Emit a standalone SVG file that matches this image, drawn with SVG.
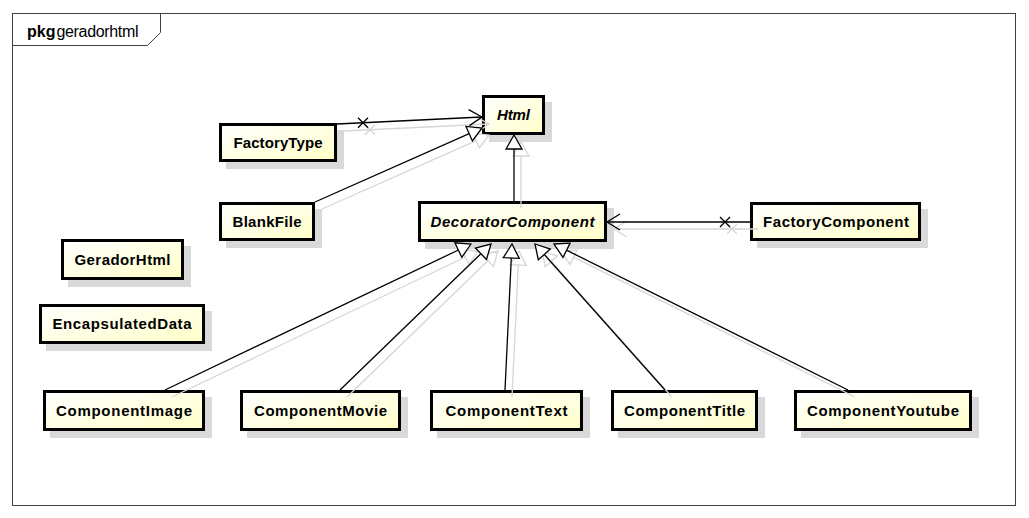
<svg xmlns="http://www.w3.org/2000/svg" width="1029" height="518" viewBox="0 0 1029 518">
  <style>
    .frame { fill: none; stroke: #404040; stroke-width: 1; }
    .tab { fill: #ffffff; stroke: #404040; stroke-width: 1; }
    .box { fill: url(#boxFill); stroke: #000000; stroke-width: 3; }
    .shadow { fill: #d9d9d9; stroke: none; }
    .lbl { font-family: "Liberation Sans", Arial, sans-serif; font-weight: bold; font-size: 15px; fill: #000000; text-anchor: middle; }
    .abs { font-style: italic; }
    .edge { fill: none; stroke: #000000; stroke-width: 1.3; }
    .head { fill: #ffffff; stroke: #000000; stroke-width: 1.3; }
    .ghost { fill: none; stroke: #d6d6d6; stroke-width: 1.3; }
  </style>
  <defs>
    <linearGradient id="boxFill" x1="0" y1="0" x2="1" y2="1">
      <stop offset="0" stop-color="#ffffff"/>
      <stop offset="1" stop-color="#ffffc8"/>
    </linearGradient>
  </defs>

  <rect width="1029" height="518" fill="#ffffff"/>

  <!-- package frame -->
  <g id="package">
    <rect class="frame" x="12.5" y="13.5" width="1003" height="492"/>
    <polygon class="tab" points="12.5,13.5 160.5,13.5 160.5,32.5 147.5,45.5 12.5,45.5"/>
    <text x="27" y="37" font-family="Liberation Sans, Arial, sans-serif" font-size="16px"><tspan font-weight="bold">pkg</tspan><tspan dx="1" textLength="82" lengthAdjust="spacing">geradorhtml</tspan></text>
  </g>

  <!-- node shadows -->
  <g id="shadows">
    <rect class="shadow" x="489" y="102" width="63" height="40"/>
    <rect class="shadow" x="226" y="130" width="118" height="39"/>
    <rect class="shadow" x="226" y="209" width="96" height="39"/>
    <rect class="shadow" x="425" y="208" width="189" height="41"/>
    <rect class="shadow" x="757" y="209" width="171" height="39"/>
    <rect class="shadow" x="68" y="246" width="123" height="41"/>
    <rect class="shadow" x="46" y="311" width="166" height="40"/>
    <rect class="shadow" x="50" y="397" width="162" height="41"/>
    <rect class="shadow" x="247" y="397" width="161" height="41"/>
    <rect class="shadow" x="437" y="397" width="153" height="41"/>
    <rect class="shadow" x="618" y="397" width="147" height="41"/>
    <rect class="shadow" x="801" y="397" width="178" height="41"/>
  </g>

  <!-- classes -->
  <g id="Html">
    <rect class="box" x="483.5" y="96.5" width="60" height="37"/>
    <text class="lbl abs" x="513.5" y="120" textLength="33" lengthAdjust="spacing">Html</text>
  </g>
  <g id="FactoryType">
    <rect class="box" x="220.5" y="124.5" width="115" height="36"/>
    <text class="lbl" x="278" y="147.5" textLength="89" lengthAdjust="spacing">FactoryType</text>
  </g>
  <g id="BlankFile">
    <rect class="box" x="220.5" y="203.5" width="93" height="36"/>
    <text class="lbl" x="267" y="226.5" textLength="69" lengthAdjust="spacing">BlankFile</text>
  </g>
  <g id="DecoratorComponent">
    <rect class="box" x="419.5" y="202.5" width="186" height="38"/>
    <text class="lbl abs" x="512.5" y="226.5" textLength="164" lengthAdjust="spacing">DecoratorComponent</text>
  </g>
  <g id="FactoryComponent">
    <rect class="box" x="751.5" y="203.5" width="168" height="36"/>
    <text class="lbl" x="836" y="226.5" textLength="146" lengthAdjust="spacing">FactoryComponent</text>
  </g>
  <g id="GeradorHtml">
    <rect class="box" x="62.5" y="240.5" width="120" height="38"/>
    <text class="lbl" x="122.5" y="264.5" textLength="96" lengthAdjust="spacing">GeradorHtml</text>
  </g>
  <g id="EncapsulatedData">
    <rect class="box" x="40.5" y="305.5" width="163" height="37"/>
    <text class="lbl" x="122" y="329" textLength="139" lengthAdjust="spacing">EncapsulatedData</text>
  </g>
  <g id="ComponentImage">
    <rect class="box" x="44.5" y="391.5" width="159" height="38"/>
    <text class="lbl" x="124" y="415.5" textLength="136" lengthAdjust="spacing">ComponentImage</text>
  </g>
  <g id="ComponentMovie">
    <rect class="box" x="241.5" y="391.5" width="158" height="38"/>
    <text class="lbl" x="320.5" y="415.5" textLength="133" lengthAdjust="spacing">ComponentMovie</text>
  </g>
  <g id="ComponentText">
    <rect class="box" x="431.5" y="391.5" width="150" height="38"/>
    <text class="lbl" x="506.5" y="415.5" textLength="122" lengthAdjust="spacing">ComponentText</text>
  </g>
  <g id="ComponentTitle">
    <rect class="box" x="612.5" y="391.5" width="144" height="38"/>
    <text class="lbl" x="684.5" y="415.5" textLength="121" lengthAdjust="spacing">ComponentTitle</text>
  </g>
  <g id="ComponentYoutube">
    <rect class="box" x="795.5" y="391.5" width="175" height="38"/>
    <text class="lbl" x="883" y="415.5" textLength="152" lengthAdjust="spacing">ComponentYoutube</text>
  </g>

  <!-- connectors -->
  <g id="connectors">
    <!-- soft offset copies of the connectors -->
    <g class="ghost" transform="translate(7,7)">
      <line x1="337" y1="124" x2="482" y2="117"/>
      <polyline points="469.4,125.6 482,117 468.6,109.6"/>
      <path d="M358,117.7 L368,127.7 M358,127.7 L368,117.7"/>
      <line x1="315" y1="202" x2="469.2" y2="133.7"/>
      <polygon points="482,128 472.4,141.0 466.0,126.4"/>
      <line x1="514" y1="201" x2="514" y2="149"/>
      <polygon points="514,135 506,149 522,149"/>
      <line x1="751" y1="222" x2="607" y2="222"/>
      <polyline points="620,214 607,222 620,230"/>
      <path d="M720,217 L730,227 M720,227 L730,217"/>
      <line x1="165" y1="390" x2="458.4" y2="250.0"/>
      <polygon points="471,244 461.8,257.3 454.9,242.8"/>
      <line x1="340" y1="390" x2="480.9" y2="253.7"/>
      <polygon points="491,244 486.5,259.5 475.4,248.0"/>
      <line x1="505" y1="390" x2="511.3" y2="258.0"/>
      <polygon points="512,244 519.3,258.4 503.3,257.6"/>
      <line x1="665" y1="390" x2="544.3" y2="254.5"/>
      <polygon points="535,244 550.3,249.1 538.3,259.8"/>
      <line x1="848" y1="390" x2="566.5" y2="250.2"/>
      <polygon points="554,244 570.1,243.1 563.0,257.4"/>
    </g>

    <!-- FactoryType -> Html (navigable association) -->
    <g id="FactoryType-Html">
      <line class="edge" x1="337" y1="124" x2="482" y2="117"/>
      <polyline class="edge" points="469.4,125.6 482,117 468.6,109.6"/>
      <path class="edge" d="M358,117.7 L368,127.7 M358,127.7 L368,117.7"/>
    </g>
    <!-- BlankFile generalizes Html -->
    <g id="BlankFile-Html">
      <line class="edge" x1="315" y1="202" x2="469.2" y2="133.7"/>
      <polygon class="head" points="482,128 472.4,141.0 466.0,126.4"/>
    </g>
    <!-- DecoratorComponent generalizes Html -->
    <g id="DecoratorComponent-Html">
      <line class="edge" x1="514" y1="201" x2="514" y2="149"/>
      <polygon class="head" points="514,135 506,149 522,149"/>
    </g>
    <!-- FactoryComponent -> DecoratorComponent (navigable association) -->
    <g id="FactoryComponent-DecoratorComponent">
      <line class="edge" x1="751" y1="222" x2="607" y2="222"/>
      <polyline class="edge" points="620,214 607,222 620,230"/>
      <path class="edge" d="M720,217 L730,227 M720,227 L730,217"/>
    </g>
    <!-- concrete components generalize DecoratorComponent -->
    <g id="ComponentImage-DecoratorComponent">
      <line class="edge" x1="165" y1="390" x2="458.4" y2="250.0"/>
      <polygon class="head" points="471,244 461.8,257.3 454.9,242.8"/>
    </g>
    <g id="ComponentMovie-DecoratorComponent">
      <line class="edge" x1="340" y1="390" x2="480.9" y2="253.7"/>
      <polygon class="head" points="491,244 486.5,259.5 475.4,248.0"/>
    </g>
    <g id="ComponentText-DecoratorComponent">
      <line class="edge" x1="505" y1="390" x2="511.3" y2="258.0"/>
      <polygon class="head" points="512,244 519.3,258.4 503.3,257.6"/>
    </g>
    <g id="ComponentTitle-DecoratorComponent">
      <line class="edge" x1="665" y1="390" x2="544.3" y2="254.5"/>
      <polygon class="head" points="535,244 550.3,249.1 538.3,259.8"/>
    </g>
    <g id="ComponentYoutube-DecoratorComponent">
      <line class="edge" x1="848" y1="390" x2="566.5" y2="250.2"/>
      <polygon class="head" points="554,244 570.1,243.1 563.0,257.4"/>
    </g>
  </g>
</svg>
